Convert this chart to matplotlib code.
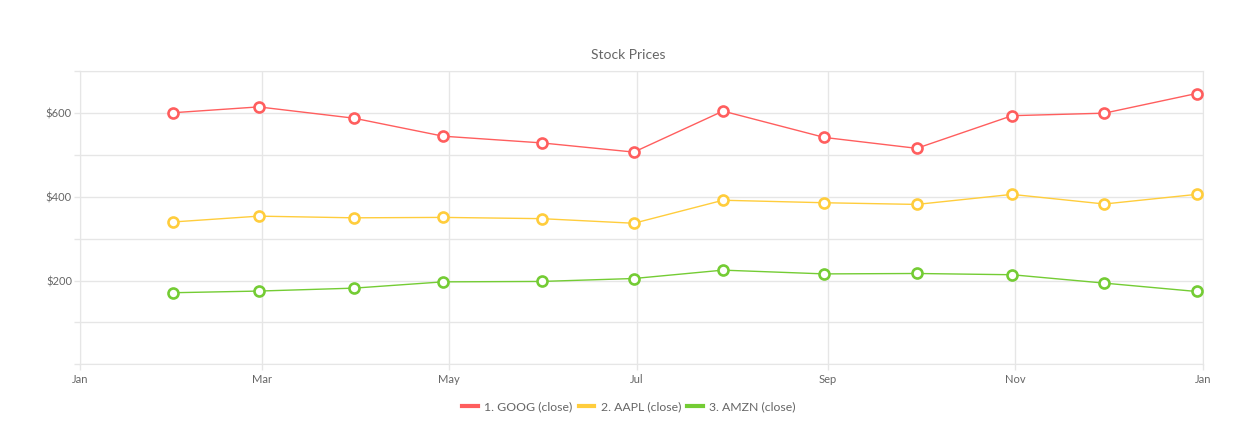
import matplotlib
matplotlib.use("Agg")
import matplotlib.pyplot as plt
import matplotlib.dates as mdates
from matplotlib.ticker import FixedLocator, FuncFormatter
import numpy as np

plt.rcParams['font.family'] = ['Lato', 'DejaVu Sans']

# data
dates = np.array(['2015-01-31', '2015-02-28', '2015-03-31', '2015-04-29',
                  '2015-05-31', '2015-06-30', '2015-07-29', '2015-08-31',
                  '2015-09-30', '2015-10-31', '2015-11-30', '2015-12-30'],
                 dtype='datetime64[D]')
goog = [601, 615, 588, 545, 529, 507, 605, 542, 516, 594, 600, 647]
aapl = [340, 354, 350, 351, 348, 337, 392, 386, 382, 406, 383, 406]
amzn = [171, 175, 182, 197, 198, 205, 225, 216, 217, 214, 194, 174]
labels = ['1. GOOG (close)', '2. AAPL (close)', '3. AMZN (close)']
colors = ['#ff5e5e', '#ffcd3c', '#74cc34']

grid_c = '#e6e6e6'
text_c = '#666666'

fig = plt.figure(figsize=(12.44, 4.48), dpi=100)
ax = fig.add_axes([0.0646, 0.1868, 0.9022, 0.654])

for vals, lab, c in zip([goog, aapl, amzn], labels, colors):
    ax.plot(dates, vals, color=c, lw=1, marker='o', ms=7.2, mfc='white',
            mec=c, mew=1.9, label=lab, zorder=3)

ax.set_xlim(np.datetime64('2015-01-01'), np.datetime64('2016-01-01'))
ax.set_ylim(0, 700)
ax.xaxis.set_major_locator(mdates.MonthLocator(bymonth=[1, 3, 5, 7, 9, 11]))
ax.xaxis.set_major_formatter(mdates.DateFormatter('%b'))
ax.yaxis.set_major_locator(FixedLocator(range(0, 701, 100)))
ax.yaxis.set_major_formatter(FuncFormatter(
    lambda v, p: '$%d' % v if v in (200, 400, 600) else ''))

ax.grid(True, color=grid_c, lw=1)
for s in ax.spines.values():
    s.set_color(grid_c)
ax.tick_params(colors=grid_c, labelcolor=text_c, labelsize=8, length=4, width=1)
ax.tick_params(axis='x', pad=3)
ax.tick_params(axis='y', pad=2)

fig.text(0.505, 0.864, 'Stock Prices', color=text_c, fontsize=10,
         ha='center', va='bottom')

leg = fig.legend(loc='upper center', bbox_to_anchor=(0.5055, 0.115), ncol=3,
                 frameon=False, fontsize=8.8, handlelength=1.3, handletextpad=0.5,
                 columnspacing=0.5, labelcolor=text_c, borderaxespad=0)
for h in leg.get_lines():
    h.set_linewidth(3)
    h.set_marker('')

fig.savefig('out.png', dpi=100)
